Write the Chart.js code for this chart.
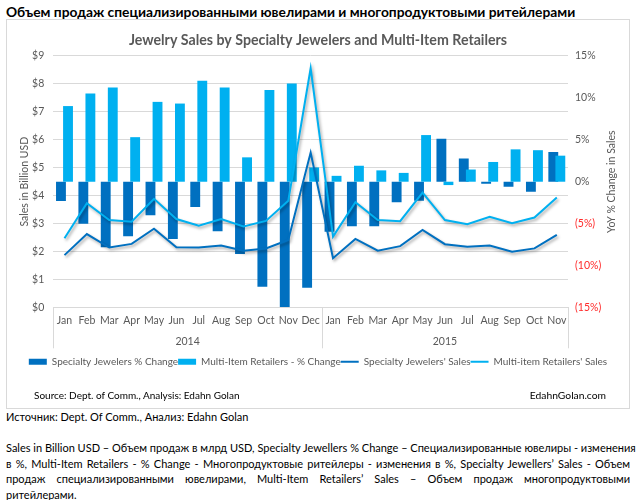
<!DOCTYPE html>
<html>
<head>
<meta charset="utf-8">
<script src="https://cdn.jsdelivr.net/npm/chart.js@4.4.0/dist/chart.umd.min.js"></script>
<style>
  body { margin: 0; background: #fff; font-family: Lato, sans-serif; }
  #page { position: relative; width: 637px; height: 500px; overflow: hidden; }
  #heading { position: absolute; left: 6px; top: 3px; font-weight: bold; font-size: 13.8px; color: #000; white-space: nowrap; }
  #box { position: absolute; left: 6px; top: 19px; width: 624px; height: 390px; border: 1px solid #d9d9d9; box-sizing: border-box; }
  #wrap { position: absolute; left: 0; top: 0; width: 637px; height: 410px; }
  #src { position: absolute; left: 34px; top: 389px; font-size: 10px; color: #000; }
  #site { position: absolute; right: 31px; top: 389px; font-size: 10.3px; color: #000; }
  #note1 { position: absolute; left: 6px; top: 410px; font-size: 11px; color: #000; }
  #notes { position: absolute; left: 6px; top: 440px; width: 624px; font-size: 11px; line-height: 15.5px; color: #000; }
  #notes div { text-align: justify; text-align-last: justify; white-space: nowrap; }
  #notes div.last { text-align-last: left; }
</style>
</head>
<body>
<div id="page">
  <div id="heading">Объем продаж специализированными ювелирами и многопродуктовыми ритейлерами</div>
  <div id="box"></div>
  <div id="wrap"><canvas id="myChart"></canvas></div>
  <div id="src">Source: Dept. of Comm., Analysis: Edahn Golan</div>
  <div id="site">EdahnGolan.com</div>
  <div id="note1">Источник: Dept. Of Comm., Анализ: Edahn Golan</div>
  <div id="notes">
    <div>Sales in Billion USD – Объем продаж в млрд USD, Specialty Jewellers % Change – Специализированные ювелиры - изменения</div>
    <div>в %, Multi-Item Retailers - % Change - Многопродуктовые ритейлеры - изменения в %, Specialty Jewellers’ Sales - Объем</div>
    <div>продаж специализированными ювелирами, Multi-Item Retailers’ Sales – Объем продаж многопродуктовыми</div>
    <div class="last">ритейлерами.</div>
  </div>
</div>
<script>
const months = ['Jan', 'Feb', 'Mar', 'Apr', 'May', 'Jun', 'Jul', 'Aug', 'Sep', 'Oct', 'Nov', 'Dec',
                'Jan', 'Feb', 'Mar', 'Apr', 'May', 'Jun', 'Jul', 'Aug', 'Sep', 'Oct', 'Nov'];
const years = ['2014', '2015'];
const yearStart = [0, 12];

// YoY % change (right axis)
const specialtyPct = [-2.3, -5.0, -7.8, -6.5, -4.0, -6.8, -3.0, -5.9, -8.6, -12.5, -14.9, -12.6,
                      -5.95, -5.3, -5.3, -2.45, -2.25, 5.1, 2.75, -0.25, -0.6, -1.2, 3.55];
const multiPct = [9.0, 10.5, 11.2, 5.3, 9.5, 9.3, 12.0, 11.2, 2.9, 10.9, 11.7, 1.7,
                  0.7, 1.9, 1.35, 1.05, 5.55, -0.4, 1.45, 2.35, 3.85, 3.75, 3.1];

// sales in billion USD (left axis)
const specialtySales = [1.88, 2.63, 2.15, 2.28, 2.82, 2.16, 2.15, 2.22, 2.04, 2.12, 2.42, 5.54,
                        1.77, 2.46, 2.04, 2.20, 2.78, 2.27, 2.18, 2.22, 2.00, 2.12, 2.60];
const multiSales = [2.48, 3.73, 3.13, 3.07, 3.89, 3.17, 2.93, 3.17, 2.90, 3.10, 3.82, 8.55,
                    2.54, 3.77, 3.13, 3.09, 4.11, 3.13, 2.98, 3.25, 3.02, 3.22, 3.94];

const darkBlue = '#0070C0';
const lightBlue = '#00B0F0';
const grey = '#595959';
const font = 'Lato';

// light bars sit in front of the dark ones, lines in front of both
const barOrder = {
  id: 'barOrder',
  beforeDatasetDraw(chart, args) {
    if (args.index === 1 && !chart.$lightPass) return false;
    if (chart.data.datasets[args.index].type === 'line') {
      const ctx = chart.ctx;
      ctx.save();
      ctx.shadowColor = 'rgba(0,0,0,0.35)';
      ctx.shadowBlur = 3;
      ctx.shadowOffsetX = 1.5;
      ctx.shadowOffsetY = 2;
    }
  },
  afterDatasetDraw(chart, args) {
    if (chart.data.datasets[args.index].type === 'line') chart.ctx.restore();
    if (args.index === 0) {
      chart.$lightPass = true;
      chart.getDatasetMeta(1).controller.draw();
      chart.$lightPass = false;
    }
  }
};

// year row under the months + right axis title
const yearAxis = {
  id: 'yearAxis',
  afterDraw(chart) {
    const ctx = chart.ctx;
    const x = chart.scales.x;
    const top = x.top;
    const edges = [x.left];
    for (let i = 1; i < yearStart.length; i++) {
      edges.push((x.getPixelForValue(yearStart[i] - 1) + x.getPixelForValue(yearStart[i])) / 2);
    }
    edges.push(x.right);
    ctx.save();
    ctx.strokeStyle = '#d9d9d9';
    ctx.lineWidth = 1;
    edges.forEach(e => {
      const px = Math.round(e) + 0.5;
      ctx.beginPath();
      ctx.moveTo(px, top);
      ctx.lineTo(px, top + 40.5);
      ctx.stroke();
    });
    ctx.fillStyle = grey;
    ctx.font = '10.5px ' + font;
    ctx.textAlign = 'center';
    ctx.textBaseline = 'middle';
    years.forEach((yr, i) => {
      ctx.fillText(yr, (edges[i] + edges[i + 1]) / 2, top + 33.5);
    });

    const y1 = chart.scales.y1;
    ctx.translate(611.7, (y1.top + y1.bottom) / 2);
    ctx.rotate(-Math.PI / 2);
    ctx.fillText('YoY % Change in Sales', 0, 0);
    ctx.restore();
  }
};

const ctx = document.getElementById('myChart').getContext('2d');

new Chart(ctx, {
  data: {
    labels: months,
    datasets: [
      {
        type: 'bar',
        label: 'Specialty Jewelers % Change',
        data: specialtyPct,
        yAxisID: 'y1',
        backgroundColor: darkBlue,
        pointStyle: 'rect',
        categoryPercentage: 0.63,
        barPercentage: 1.4
      },
      {
        type: 'bar',
        label: 'Multi-Item Retailers - % Change',
        data: multiPct,
        yAxisID: 'y1',
        backgroundColor: lightBlue,
        pointStyle: 'rect',
        categoryPercentage: 0.63,
        barPercentage: 1.4
      },
      {
        type: 'line',
        label: "Specialty Jewelers' Sales",
        data: specialtySales,
        yAxisID: 'y',
        borderColor: darkBlue,
        backgroundColor: darkBlue,
        borderWidth: 2,
        pointRadius: 0,
        pointStyle: 'line',
        tension: 0,
        order: -1
      },
      {
        type: 'line',
        label: "Multi-item Retailers' Sales",
        data: multiSales,
        yAxisID: 'y',
        borderColor: lightBlue,
        backgroundColor: lightBlue,
        borderWidth: 2,
        pointRadius: 0,
        pointStyle: 'line',
        tension: 0,
        order: -1
      }
    ]
  },
  options: {
    responsive: true,
    maintainAspectRatio: false,
    animation: false,
    devicePixelRatio: 1,
    layout: {
      padding: {top: 24, left: 7, right: 8, bottom: 33.3}
    },
    plugins: {
      title: {
        display: true,
        text: 'Jewelry Sales by Specialty Jewelers and Multi-Item Retailers',
        color: grey,
        font: {family: font, size: 14.2, weight: 'bold'},
        padding: {top: 8, bottom: 6.6}
      },
      legend: {
        position: 'bottom',
        labels: {
          usePointStyle: true,
          pointStyleWidth: 18,
          boxHeight: 6,
          padding: 0,
          color: grey,
          font: {family: font, size: 10},
          sort: (a, b) => a.datasetIndex - b.datasetIndex
        }
      },
      tooltip: {enabled: false}
    },
    scales: {
      x: {
        grid: {display: false, drawTicks: false},
        border: {display: true, color: '#d9d9d9'},
        ticks: {color: grey, font: {family: font, size: 10.5}, padding: 7, autoSkip: false, maxRotation: 0},
        afterFit(scale) { scale.height = 48.9; }
      },
      y: {
        position: 'left',
        min: 0,
        max: 9,
        grid: {color: '#d9d9d9', drawTicks: false},
        border: {display: false},
        ticks: {
          stepSize: 1,
          padding: 9,
          color: grey,
          font: {family: font, size: 10.5},
          callback: v => '$' + v
        },
        title: {
          display: true,
          text: 'Sales in Billion USD',
          color: grey,
          font: {family: font, size: 10.5},
          padding: {top: 11.7, bottom: 0}
        },
        afterFit(scale) { scale.width = 46.3; }
      },
      y1: {
        position: 'right',
        min: -15,
        max: 15,
        grid: {display: false, drawTicks: false},
        border: {display: false},
        ticks: {
          stepSize: 5,
          padding: 7,
          color: c => c.tick.value < 0 ? '#ff2a2a' : grey,
          font: {family: font, size: 10.5},
          callback: v => v < 0 ? '(' + (-v) + '%)' : v + '%'
        },
        afterFit(scale) { scale.width = 61; }
      }
    }
  },
  plugins: [barOrder, yearAxis]
});
</script>
</body>
</html>
